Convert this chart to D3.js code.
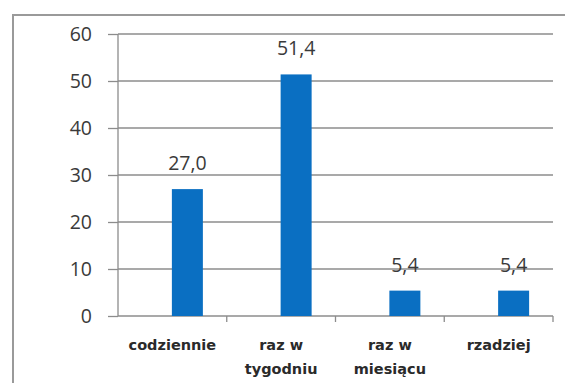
<!DOCTYPE html>
<html>
<head>
<meta charset="utf-8">
<script src="https://cdn.jsdelivr.net/npm/d3@7"></script>
<style>
  body{ margin:0; background:#fff; }
  svg{ display:block; }
</style>
</head>
<body>
<div id="chart"></div>
<script>
// Chart data.
var categories = [ ['codziennie'], ['raz w', 'tygodniu'], ['raz w', 'miesiącu'], ['rzadziej'] ];
var values = [ 27.0, 51.4, 5.4, 5.4 ];
var y_ticks = [ 0, 10, 20, 30, 40, 50, 60 ];

var width = 565, height = 383;
var margin = { left: 118, right: 12, top: 34, bottom: 67 };
var bar_width = 31;
var bar_shift = 15;   // bars sit a bit right of the category centre in the original

var svg = d3.select( '#chart' )
  .append( 'svg' )
    .attr( 'width', width )
    .attr( 'height', height );

// Outer frame: only top and left edges are visible.
svg.append( 'path' )
  .attr( 'd', 'M13,' + height + ' L13,15 L' + width + ',15' )
  .attr( 'fill', 'none' )
  .attr( 'stroke', '#9a9a9a' )
  .attr( 'stroke-width', 2 );

var xScale = d3.scaleBand()
  .domain( d3.range( categories.length ) )
  .range( [ margin.left, width - margin.right ] );

var yScale = d3.scaleLinear()
  .domain( [ 0, 60 ] )
  .range( [ height - margin.bottom, margin.top ] );

// Grid lines.
svg.append( 'g' )
  .selectAll( 'line' )
  .data( y_ticks.slice( 1 ) )
  .enter()
  .append( 'line' )
    .attr( 'x1', margin.left )
    .attr( 'x2', width - margin.right )
    .attr( 'y1', function( d ){ return yScale( d ); } )
    .attr( 'y2', function( d ){ return yScale( d ); } )
    .attr( 'stroke', '#8c8c8c' )
    .attr( 'stroke-width', 1.3 );

// Y axis.
var yAxis = svg.append( 'g' )
  .attr( 'transform', 'translate(' + margin.left + ',0)' )
  .call( d3.axisLeft( yScale ).tickValues( y_ticks ).tickSize( 10 ).tickPadding( 16 ) );
yAxis.selectAll( 'line, path' ).attr( 'stroke', '#8c8c8c' ).attr( 'stroke-width', 1.3 );
yAxis.select( 'path' ).attr( 'd', 'M0,' + yScale( 0 ) + 'V' + yScale( 60 ) );
yAxis.selectAll( 'text' )
  .attr( 'font-family', 'Open Sans, sans-serif' )
  .attr( 'font-size', 19.5 )
  .attr( 'fill', '#3a3a3a' );

// X axis line and category boundary ticks.
var x_axis = svg.append( 'g' );
x_axis.append( 'line' )
  .attr( 'x1', margin.left )
  .attr( 'x2', width - margin.right )
  .attr( 'y1', yScale( 0 ) )
  .attr( 'y2', yScale( 0 ) )
  .attr( 'stroke', '#8c8c8c' )
  .attr( 'stroke-width', 1.3 );
x_axis.selectAll( '.xtick' )
  .data( d3.range( 1, categories.length + 1 ) )
  .enter()
  .append( 'line' )
    .attr( 'x1', function( d ){ return xScale.range()[0] + d * xScale.bandwidth(); } )
    .attr( 'x2', function( d ){ return xScale.range()[0] + d * xScale.bandwidth(); } )
    .attr( 'y1', yScale( 0 ) )
    .attr( 'y2', yScale( 0 ) + 6 )
    .attr( 'stroke', '#8c8c8c' )
    .attr( 'stroke-width', 1.3 );

// Bars.
svg.append( 'g' )
  .selectAll( 'rect' )
  .data( values )
  .enter()
  .append( 'rect' )
    .attr( 'x', function( d, i ){ return xScale( i ) + xScale.bandwidth() / 2 + bar_shift - bar_width / 2; } )
    .attr( 'y', function( d ){ return yScale( d ); } )
    .attr( 'width', bar_width )
    .attr( 'height', function( d ){ return yScale( 0 ) - yScale( d ); } )
    .attr( 'fill', '#0a6fc2' );

// Value labels.
svg.append( 'g' )
  .selectAll( 'text' )
  .data( values )
  .enter()
  .append( 'text' )
    .attr( 'x', function( d, i ){ return xScale( i ) + xScale.bandwidth() / 2 + bar_shift; } )
    .attr( 'y', function( d ){ return yScale( d ) - 19; } )
    .attr( 'text-anchor', 'middle' )
    .attr( 'font-family', 'Open Sans, sans-serif' )
    .attr( 'font-size', 19.5 )
    .attr( 'fill', '#3a3a3a' )
    .text( function( d ){ return d.toFixed( 1 ).replace( '.', ',' ); } );

// Category labels.
var cat = svg.append( 'g' )
  .selectAll( 'text' )
  .data( categories )
  .enter()
  .append( 'text' )
    .attr( 'text-anchor', 'middle' )
    .attr( 'font-family', 'DejaVu Sans, sans-serif' )
    .attr( 'font-weight', 'bold' )
    .attr( 'font-size', 14.5 )
    .attr( 'fill', '#2a2a2a' );
cat.selectAll( 'tspan' )
  .data( function( d, i ){ return d.map( function( t ){ return { t: t, i: i }; } ); } )
  .enter()
  .append( 'tspan' )
    .attr( 'x', function( d ){ return xScale( d.i ) + xScale.bandwidth() / 2; } )
    .attr( 'y', function( d, j ){ return 350 + j * 24; } )
    .text( function( d ){ return d.t; } );
</script>
</body>
</html>
